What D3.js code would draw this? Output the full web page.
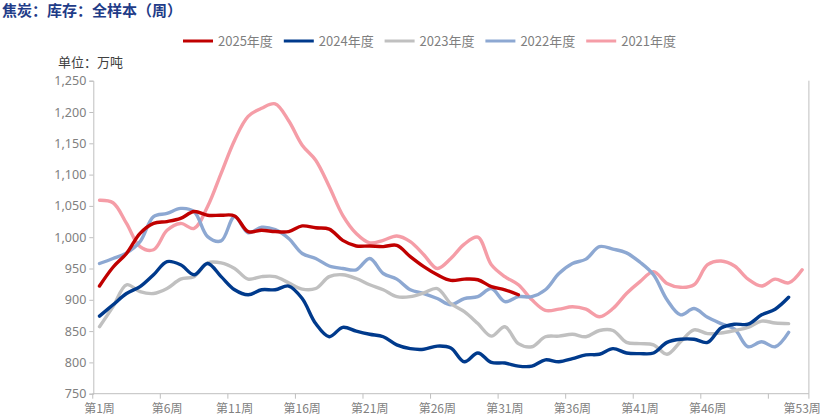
<!DOCTYPE html>
<html><head><meta charset="utf-8">
<script src="https://cdn.jsdelivr.net/npm/d3@7/dist/d3.min.js"></script>
<style>
html,body{margin:0;padding:0;background:#fff;}
svg{display:block;font-family:"Noto Sans CJK SC","Noto Sans",sans-serif;}
</style></head>
<body><svg id="c" width="829" height="418"></svg>
<script>
const weeks = d3.range(1, 54);
const xTickLabels = ["第1周","第6周","第11周","第16周","第21周","第26周","第31周","第36周","第41周","第46周","第53周"];
const xLabelWeeks = [1,6,11,16,21,26,31,36,41,46,53];
const xTickBoundaries = [0,5,10,15,20,25,30,35,40,45,50,53];
const yTicks = [750,800,850,900,950,1000,1050,1100,1150,1200,1250];

const s2025 = [922,952,974,1006,1022,1025,1030,1041,1035,1035,1034,1009,1011,1009,1009,1018,1015,1013,995,986,986,985,987,969,953,940,931,933,932,921,916,908];
const s2024 = [874,892,910,921,940,961,956,940,958,937,916,908,916,916,922,902,862,841,856,850,845,841,828,822,821,826,823,801,815,800,799,794,794,804,801,806,812,813,822,815,814,815,832,837,837,832,855,861,861,876,885,904];
const s2023 = [857,889,924,913,910,918,933,937,959,959,950,933,937,937,927,917,918,937,940,934,924,916,905,905,911,918,894,881,862,842,857,830,825,841,842,845,841,851,851,832,830,828,813,833,852,846,847,851,856,866,863,862];
const s2022 = [958,966,975,993,1033,1038,1046,1041,1001,994,1033,1007,1016,1012,998,974,966,954,950,948,966,942,933,916,910,902,892,902,905,918,897,905,905,916,942,958,965,985,981,975,960,940,900,876,886,872,862,853,825,833,825,848];
const s2021 = [1059,1055,1022,985,980,1011,1022,1014,1049,1102,1155,1193,1206,1213,1186,1147,1123,1081,1035,1006,991,995,1002,993,972,950,966,989,1000,956,937,924,900,883,885,889,885,873,886,910,929,945,926,920,924,956,962,954,933,922,933,927,948];

const seriesNames = ["2025年度","2024年度","2023年度","2022年度","2021年度"];
const seriesData = [s2025, s2024, s2023, s2022, s2021];
const seriesColors = ["#C00000","#003A8C","#C0C0C0","#8DA8D2","#F59DA7"];

const svg = d3.select("#c");
const x = d3.scaleBand().domain(weeks).range([92.75, 808.9]).padding(0);
const y = d3.scaleLinear().domain([750,1250]).range([393.7, 80.7]);
const cx = w => x(w) + x.bandwidth()/2;
const axisColor = "#BFBFBF";
const textColor = "#808080";

// title
svg.append("text").attr("x",2).attr("y",16).attr("font-size",15).attr("font-weight","bold")
  .attr("fill","#1F3C88").text("焦炭：库存：全样本（周）");

// unit
svg.append("text").attr("x",58).attr("y",67).attr("font-size",13).attr("fill","#404040").text("单位：万吨");

// y axis
const yAxis = d3.axisLeft(y).tickValues(yTicks).tickSize(4).tickPadding(3).tickFormat(d3.format(","));
const gy = svg.append("g").attr("transform","translate(93.3,0)").call(yAxis);
gy.select(".domain").attr("stroke",axisColor);
gy.selectAll(".tick line").attr("stroke",axisColor);
gy.selectAll(".tick text").attr("fill",textColor).attr("font-size",12.5).attr("font-family","Noto Sans, sans-serif");

// x axis
const xb = d3.scaleLinear().domain([0,53]).range([92.75, 808.9]);
const gx = svg.append("g").attr("transform","translate(0,393.7)");
gx.append("line").attr("x1",92.75).attr("x2",808.9).attr("stroke",axisColor);
gx.selectAll("line.t").data(xTickBoundaries).join("line").attr("class","t")
  .attr("x1",d=>xb(d)).attr("x2",d=>xb(d)).attr("y1",0).attr("y2",5).attr("stroke",axisColor);
gx.selectAll("text").data(xLabelWeeks).join("text")
  .attr("x",d=>cx(d)).attr("y",19).attr("text-anchor","middle").attr("font-size",12)
  .attr("fill",textColor).text((d,i)=>xTickLabels[i]);

// right border
svg.append("line").attr("x1",808.9).attr("x2",808.9).attr("y1",80.7).attr("y2",393.7).attr("stroke",axisColor);

// lines
const line = d3.line().x((d,i)=>cx(i+1)).y(d=>y(d)).curve(d3.curveCatmullRom.alpha(0.5));
const order = [4,3,2,1,0];
order.forEach(k=>{
  svg.append("path").datum(seriesData[k]).attr("d",line).attr("fill","none")
    .attr("stroke",seriesColors[k]).attr("stroke-width",3.4).attr("stroke-linejoin","round").attr("stroke-linecap","round");
});

// legend
const lg = svg.append("g");
seriesNames.forEach((n,i)=>{
  const x0 = 183 + i*100.8;
  lg.append("line").attr("x1",x0).attr("x2",x0+30).attr("y1",41).attr("y2",41)
    .attr("stroke",seriesColors[i]).attr("stroke-width",3);
  lg.append("text").attr("x",x0+35).attr("y",46).attr("font-size",13).attr("fill","#7F7F7F").text(n);
});
</script></body></html>
